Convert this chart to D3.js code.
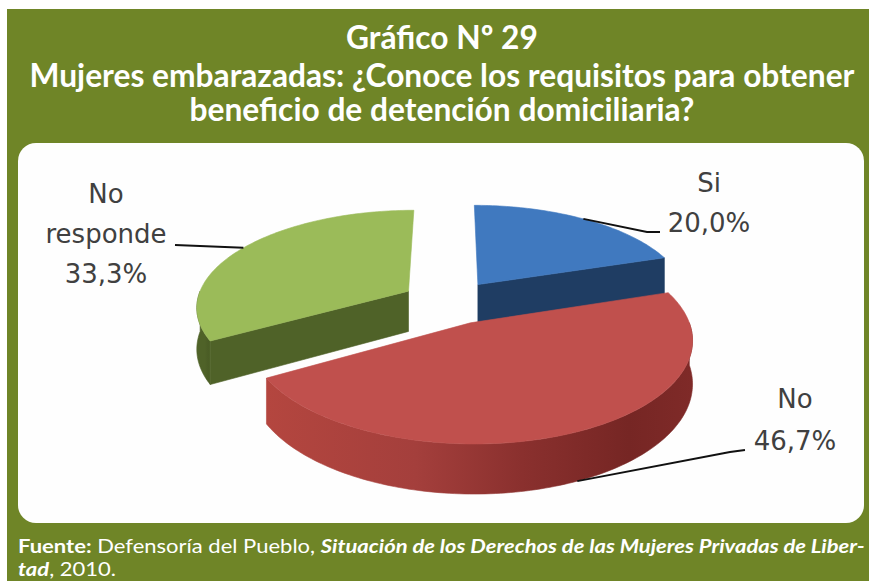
<!DOCTYPE html>
<html>
<head>
<meta charset="utf-8">
<script src="https://cdn.jsdelivr.net/npm/d3@7"></script>
<style>
  html, body { margin: 0; padding: 0; background: #fff; }
  svg { display: block; }
</style>
</head>
<body>
<div id="chart"></div>
<script>
// Data
const categories = ["Si", "No", "No responde"];
const values = [20.0, 46.7, 33.3];

const titleLines = [
  "Gráfico Nº 29",
  "Mujeres embarazadas: ¿Conoce los requisitos para obtener",
  "beneficio de detención domiciliaria?"
];
const sourceLine1 = ["Fuente:", " Defensoría del Pueblo, ", "Situación de los Derechos de las Mujeres Privadas de Liber-"];
const sourceLine2 = ["tad", ", 2010."];

// Styles
const topColors = ["#4079bf", "#c0504d", "#9bbb59"];
const sideColors = ["#1f3d63", "#8f3431", "#4f6228"];
const frameGreen = "#6f8527";

const width = 869;
const height = 581;

const svg = d3
  .select("#chart")
  .append("svg")
  .attr("width", width)
  .attr("height", height);

// green frame + white panel
svg.append("rect")
  .attr("x", 7).attr("y", 9)
  .attr("width", width - 7).attr("height", height - 9)
  .attr("fill", frameGreen);

svg.append("rect")
  .attr("x", 18).attr("y", 143)
  .attr("width", 846).attr("height", 380)
  .attr("rx", 18).attr("ry", 18)
  .attr("fill", "#fefefe");

// squeeze a text element horizontally so it spans the target width
function fitX(sel, anchorX, k) {
  sel.attr("transform", `translate(${anchorX},0) scale(${k},1) translate(${-anchorX},0)`);
}

// Title
const titleFont = "'Liberation Sans Narrow', Lato, 'DejaVu Sans Condensed', sans-serif";
const titleY = [49, 87, 121];
const titleTexts = titleLines.map((t, i) =>
  svg.append("text")
    .attr("x", 442)
    .attr("y", titleY[i])
    .attr("text-anchor", "middle")
    .attr("font-family", titleFont)
    .attr("font-weight", "bold")
    .attr("font-size", "33px")
    .attr("fill", "#fff")
    .text(t)
);
const titleK = 825 / titleTexts[1].node().getComputedTextLength();
titleTexts.forEach((t) => fitX(t, 442, titleK));

// Source note
const srcFont = "'Liberation Sans Narrow', Lato, 'DejaVu Sans Condensed', sans-serif";
function sourceText(parts, y, styles) {
  const t = svg.append("text")
    .attr("x", 18)
    .attr("y", y)
    .attr("font-family", srcFont)
    .attr("font-size", "19px")
    .attr("fill", "#fff");
  parts.forEach((p, i) => {
    t.append("tspan")
      .attr("font-weight", styles[i].bold ? "bold" : "normal")
      .attr("font-style", styles[i].italic ? "italic" : "normal")
      .text(p);
  });
  return t;
}
const src1 = sourceText(sourceLine1, 553, [{ bold: true }, {}, { bold: true, italic: true }]);
const src2 = sourceText(sourceLine2, 576, [{ bold: true, italic: true }, {}]);
const srcK = 847 / src1.node().getComputedTextLength();
fitX(src1, 18, srcK);
fitX(src2, 18, srcK);

// 3D exploded pie
const pie = d3.pie().sort(null).value((d) => d)(values);

const cx = 450, cy = 302;     // centre of the top face (unexploded)
const Rx = 212, Ry = 96;      // ellipse radii
const depth = 41;             // thickness
const explode = 0.23;         // offset along mid angle, in radii
const persp = 0.15;           // perspective strength

function proj(d, ang, r, h) {
  const m = (d.startAngle + d.endAngle) / 2;
  const px = explode * Math.sin(m) + r * Math.sin(ang);
  const pz = explode * Math.cos(m) + r * Math.cos(ang);
  const f = 1 / (1 + persp * pz);
  return [cx + px * Rx * f, cy - pz * Ry * f + h * depth * f];
}

function arcPts(d, a0, a1, h) {
  const n = Math.max(2, Math.ceil(Math.abs(a1 - a0) / 0.02));
  return d3.range(n + 1).map((i) => proj(d, a0 + ((a1 - a0) * i) / n, 1, h));
}

const line = d3.line();
const defs = svg.append("defs");

// gradient for curved walls (same order as categories)
const wallStops = [
  ["#1f3d63", "#1f3d63", "#1a3455", "#1a3455", "#1f3d63"],
  ["#b4463f", "#a43f3c", "#8a302e", "#762624", "#7f2a28"],
  ["#4f6228", "#4f6228", "#4f6228", "#4a5c25", "#4f6228"]
];
wallStops.forEach((stops, i) => {
  const g = defs.append("linearGradient")
    .attr("id", "wall" + i)
    .attr("x1", 0).attr("x2", 1).attr("y1", 0).attr("y2", 0);
  [0, 0.35, 0.6, 0.85, 1].forEach((o, j) =>
    g.append("stop").attr("offset", o).attr("stop-color", stops[j])
  );
});

const pieG = svg.append("g");
// paint back slices first, the big front slice last
const drawOrder = [0, 2, 1];

drawOrder.forEach((i) => {
  const d = pie[i];
  const g = pieG.append("g");

  // curved outer wall where it faces the viewer (angles between 90 and 270 deg)
  const w0 = Math.max(d.startAngle, Math.PI / 2);
  const w1 = Math.min(d.endAngle, (3 * Math.PI) / 2);
  if (w1 > w0) {
    const pts = arcPts(d, w0, w1, 0).concat(arcPts(d, w1, w0, 1));
    g.append("path")
      .attr("d", line(pts) + "Z")
      .attr("fill", `url(#wall${i})`)
      .attr("stroke", `url(#wall${i})`)
      .attr("stroke-width", 0.6);
  }

  // radial cut faces
  [
    [d.startAngle, d.startAngle - Math.PI / 2],
    [d.endAngle, d.endAngle + Math.PI / 2]
  ].forEach(([a, normal]) => {
    if (Math.cos(normal) < -1e-6) {
      const pts = [
        proj(d, a, 0, 0),
        proj(d, a, 1, 0),
        proj(d, a, 1, 1),
        proj(d, a, 0, 1)
      ];
      g.append("path")
        .attr("d", line(pts) + "Z")
        .attr("fill", sideColors[i])
        .attr("stroke", sideColors[i])
        .attr("stroke-width", 0.6);
    }
  });

  // top face
  const top = [proj(d, 0, 0, 0)].concat(arcPts(d, d.startAngle, d.endAngle, 0));
  g.append("path")
    .attr("d", line(top) + "Z")
    .attr("fill", topColors[i])
    .attr("stroke", topColors[i])
    .attr("stroke-width", 0.6);
});

// Labels with leader lines
const fmtPct = (v) => d3.format(".1f")(v).replace(".", ",") + "%";
const labelLayout = [
  { h: 0, path: [[647, 232], [660, 232]], x: 709, y: [192, 232] },
  { h: 1, path: [[730, 452], [745, 450]], x: 795, y: [408, 450] },
  { h: 0, path: [[175, 245]], x: 106, y: [203, 243, 283] }
];

pie.forEach((d, i) => {
  const L = labelLayout[i];
  const m = (d.startAngle + d.endAngle) / 2;
  const start = proj(d, m, 1, L.h);
  svg.append("path")
    .attr("d", line([start].concat(L.path)))
    .attr("fill", "none")
    .attr("stroke", "#111")
    .attr("stroke-width", 2);

  const lines = categories[i].split(" ").concat(fmtPct(values[i]));
  lines.forEach((txt, j) => {
    svg.append("text")
      .attr("x", L.x)
      .attr("y", L.y[j])
      .attr("text-anchor", "middle")
      .attr("font-family", "'DejaVu Sans', sans-serif")
      .attr("font-size", "26px")
      .attr("fill", "#404040")
      .text(txt);
  });
});
</script>
</body>
</html>
